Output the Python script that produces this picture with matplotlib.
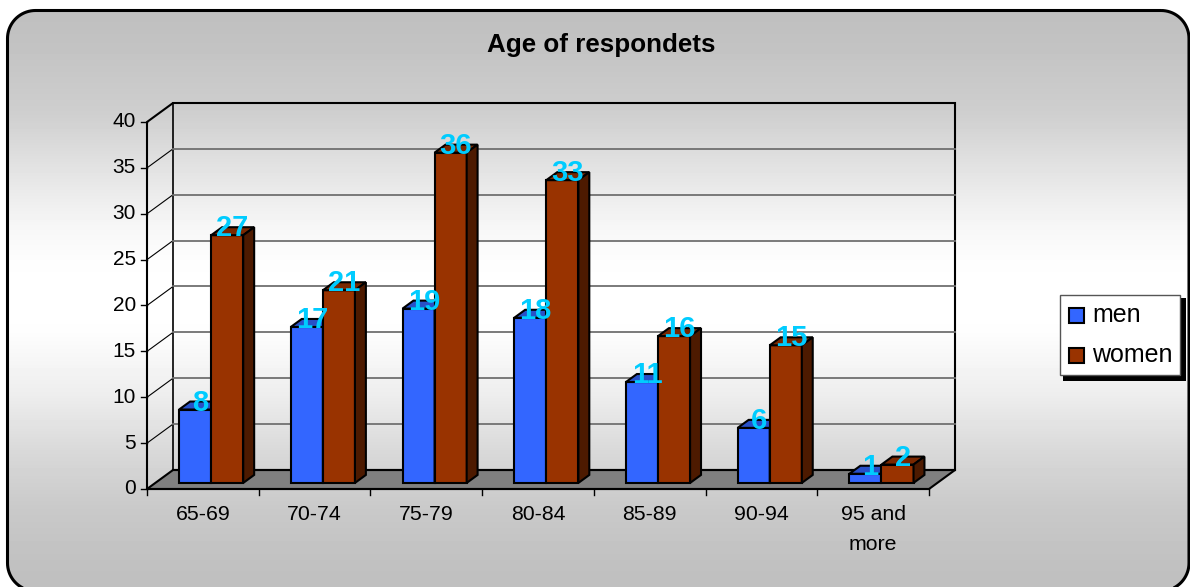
import numpy as np
import matplotlib
matplotlib.use('Agg')
import matplotlib.pyplot as plt
from matplotlib.patches import Polygon, Rectangle

plt.rcParams['font.family'] = ['Liberation Sans', 'DejaVu Sans']

# datos
categories = ['65-69', '70-74', '75-79', '80-84', '85-89', '90-94', '95 and\nmore']
men = [8, 17, 19, 18, 11, 6, 1]
women = [27, 21, 36, 33, 16, 15, 2]
y_ticks = [0, 5, 10, 15, 20, 25, 30, 35, 40]

W, H = 1190, 587
fig = plt.figure(figsize=(W/100, H/100), dpi=100)
fig.patch.set_facecolor('white')

# fondo en pixeles
bg = fig.add_axes([0, 0, 1, 1])
bg.axis('off')

# rectangulo redondeado como poligono (las curvas se rompen al salir del lienzo)
def redondeado(x0, y0, x1, y1, r):
    a = np.linspace(0, np.pi/2, 20)
    esq = [(x1 - r + r*np.sin(a), y0 + r - r*np.cos(a)),
           (x1 - r + r*np.cos(a), y1 - r + r*np.sin(a)),
           (x0 + r - r*np.sin(a), y1 - r + r*np.cos(a)),
           (x0 + r - r*np.cos(a), y0 + r - r*np.sin(a))]
    return np.vstack([np.column_stack(e) for e in esq])

grad_y = [10, 40, 113, 169, 225, 263, 300, 330, 395, 451, 507, 564, 592]
grad_v = [.75, .76, .81, .89, .965, .995, 1, .995, .93, .85, .79, .755, .75]
filas = np.arange(10, 592)
grad = np.interp(filas, grad_y, grad_v)
caja = Polygon(redondeado(7.5, 10.5, 1189, 591, 28), closed=True, facecolor='none',
               edgecolor='black', linewidth=2.2, zorder=3)
bg.add_patch(caja)
im = bg.imshow(grad[:, None], extent=(7, 1190, 592, 10), cmap='gray', vmin=0, vmax=1,
               aspect='auto', zorder=1)
im.set_clip_path(caja)
bg.set_xlim(0, W)
bg.set_ylim(H, 0)

# ejes del plano frontal
ax = fig.add_axes([147/W, 1 - 489/H, (929-147)/W, (489-122)/H])
ax.set_xlim(0, 7)
ax.set_ylim(0, 40)
ax.axis('off')
ax.patch.set_alpha(0)

dx = 26/111.7   # profundidad en unidades de datos
dy = 19/9.175

def p(x, y, d):
    return (x + d*dx, y + d*dy)

def cara(pts, color, z, lw=1.0):
    ax.add_patch(Polygon(pts, closed=True, facecolor=color, edgecolor='black',
                         linewidth=lw, zorder=z, clip_on=False, joinstyle='miter'))

# paredes y piso
cara([p(0, 0, 0), p(7, 0, 0), p(7, 0, 1), p(0, 0, 1)], '#808080', 1, 1.5)
ax.plot([p(0, 0, 0)[0], p(0, 40, 0)[0], p(0, 40, 1)[0], p(7, 40, 1)[0], p(7, 0, 1)[0]],
        [p(0, 0, 0)[1], p(0, 40, 0)[1], p(0, 40, 1)[1], p(7, 40, 1)[1], p(7, 0, 1)[1]],
        color='black', lw=1.5, zorder=2, clip_on=False, solid_joinstyle='miter')
ax.plot([p(0, 0, 1)[0], p(0, 40, 1)[0]], [p(0, 0, 1)[1], p(0, 40, 1)[1]],
        color='black', lw=1.2, zorder=2, clip_on=False)
ax.plot([p(0, 0, 0)[0], p(7, 0, 0)[0]], [0, 0], color='black', lw=1.5, zorder=2, clip_on=False)
ax.plot([p(0, 0, 1)[0], p(7, 0, 1)[0]], [p(0, 0, 1)[1]]*2, color='black', lw=1.5, zorder=2, clip_on=False)

for v in y_ticks:
    if 0 < v < 40:
        a, b, c = p(0, v, 0), p(0, v, 1), p(7, v, 1)
        ax.plot([a[0], b[0]], [a[1], b[1]], color='black', lw=0.8, zorder=2, clip_on=False)
        ax.plot([b[0], c[0]], [b[1], c[1]], color='#707070', lw=1.3, zorder=2, clip_on=False)
    # marca y etiqueta del eje y
    ax.plot([-6/111.7, 0], [v, v], color='black', lw=1.0, zorder=2, clip_on=False)
    ax.text(-11/111.7, v, str(v), ha='right', va='center', fontsize=15, color='black')

for i, c in enumerate(categories):
    ax.plot([i, i], [0, -6/9.175], color='black', lw=1.0, clip_on=False, zorder=2)
    ax.text(i + 0.5, -16/9.175, c, ha='center', va='top', fontsize=15.3, color='black',
            linespacing=1.7)
ax.plot([7, 7], [0, -6/9.175], color='black', lw=1.0, clip_on=False, zorder=2)

# barras
d0, d1 = 0.32, 0.74
ancho = 0.287
azul = ('#3366FF', '#2850C8', '#1e3c96')
rojo = ('#993300', '#7a2800', '#4d1a00')

def barra(x, v, col, z):
    cara([p(x, 0, d0), p(x+ancho, 0, d0), p(x+ancho, v, d0), p(x, v, d0)], col[0], z, 1.5)
    cara([p(x, v, d0), p(x+ancho, v, d0), p(x+ancho, v, d1), p(x, v, d1)], col[1], z, 1.5)
    cara([p(x+ancho, 0, d0), p(x+ancho, 0, d1), p(x+ancho, v, d1), p(x+ancho, v, d0)], col[2], z, 1.5)

for i in range(len(categories)):
    x0 = i + 0.5 - ancho
    barra(x0, men[i], azul, 5 + i*2)
    barra(x0 + ancho, women[i], rojo, 6 + i*2)

for i in range(len(categories)):
    x0 = i + 0.5 - ancho
    for x, v in ((x0, men[i]), (x0 + ancho, women[i])):
        q = p(x + ancho/2, v, d0 + 0.2)
        ax.text(q[0], q[1] + 0.33, str(v), ha='center', va='center', fontsize=21, fontweight='bold',
                color='#00CCFF', zorder=40, clip_on=False)

# titulo
bg.text(601, 45, 'Age of respondets', ha='center', va='center', fontsize=18.7, fontweight='bold', color='black')

# leyenda
bg.add_patch(Rectangle((1063, 298), 123, 83, facecolor='black', edgecolor='none', zorder=5))
bg.add_patch(Rectangle((1059.5, 294.5), 120, 80, facecolor='white', edgecolor='#555555', linewidth=1, zorder=6))
for yy, col, nom in ((315, azul[0], 'men'), (355, rojo[0], 'women')):
    bg.add_patch(Rectangle((1069, yy-7.5), 15, 15, facecolor=col, edgecolor='black', linewidth=1.5, zorder=7))
    bg.text(1092, yy, nom, ha='left', va='center', fontsize=18, color='black', zorder=7)

fig.savefig('out.png', dpi=100)
